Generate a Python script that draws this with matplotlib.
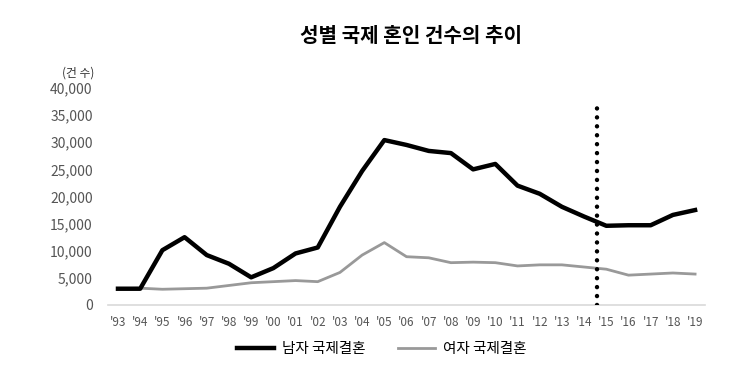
import matplotlib.pyplot as plt
import numpy as np

plt.rcParams['font.family'] = ['Noto Sans CJK KR', 'DejaVu Sans']
plt.rcParams['axes.unicode_minus'] = False

# 연도 라벨
years = ["'93", "'94", "'95", "'96", "'97", "'98", "'99", "'00", "'01", "'02",
         "'03", "'04", "'05", "'06", "'07", "'08", "'09", "'10", "'11", "'12",
         "'13", "'14", "'15", "'16", "'17", "'18", "'19"]

# 남자 국제결혼 건수
male = [3000, 3000, 10100, 12500, 9200, 7600, 5100, 6800, 9500, 10600,
        18100, 24700, 30400, 29500, 28400, 28000, 25000, 26000, 22000, 20500,
        18100, 16300, 14600, 14700, 14700, 16600, 17500]

# 여자 국제결혼 건수
female = [3000, 3100, 2900, 3000, 3100, 3600, 4100, 4300, 4500, 4300,
          6000, 9200, 11500, 8900, 8700, 7800, 7900, 7800, 7200, 7400,
          7400, 7000, 6600, 5500, 5700, 5900, 5700]

y_ticks = [0, 5000, 10000, 15000, 20000, 25000, 30000, 35000, 40000]

fig = plt.figure(figsize=(7.52, 3.77), dpi=100)
ax = fig.add_axes([0.1436, 0.191, 0.794, 0.5756])

x = np.arange(len(years))
ax.plot(x, male, color='black', linewidth=3.2, label='남자 국제결혼',
        solid_joinstyle='round', zorder=3)
ax.plot(x, female, color='#999999', linewidth=2.0, label='여자 국제결혼', zorder=2)

# 2015년 부근 점선
ax.plot([21.6, 21.6], [0, 37200], color='black', linewidth=3.2,
        linestyle=(0, (0.01, 2.0)), dash_capstyle='round', zorder=4)

ax.set_xlim(-0.45, len(years) - 0.55)
ax.set_ylim(0, 40000)
ax.set_xticks(x)
ax.set_xticklabels(years, fontsize=8.5, color='#555555')
ax.set_yticks(y_ticks)
ax.set_yticklabels([f'{v:,}' for v in y_ticks], fontsize=10, color='#555555')
ax.tick_params(axis='both', length=0)
ax.tick_params(axis='x', pad=8)
ax.tick_params(axis='y', pad=11)

for s in ['top', 'right', 'left']:
    ax.spines[s].set_visible(False)
ax.spines['bottom'].set_color('#d9d9d9')
ax.spines['bottom'].set_linewidth(1.2)

fig.text(0.083, 0.805, '(건 수)', fontsize=8.5, color='#333333', ha='left', va='center')
fig.text(0.546, 0.905, '성별 국제 혼인 건수의 추이', fontsize=14.5, fontweight='bold',
         ha='center', va='center')

fig.legend(loc='center', bbox_to_anchor=(0.508, 0.073), ncol=2, frameon=False,
           fontsize=10.5, handlelength=2.5, columnspacing=2.2, handletextpad=0.6)

fig.savefig('out.png', dpi=100)
